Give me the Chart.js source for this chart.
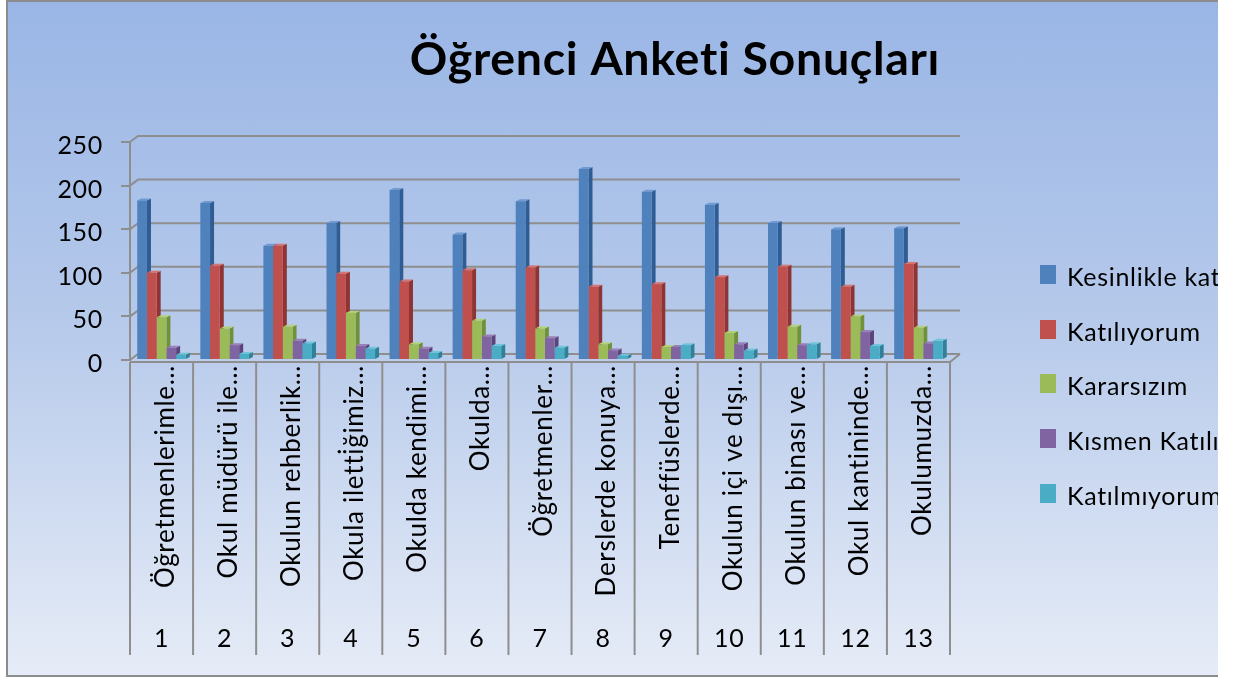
<!DOCTYPE html>
<html lang="tr">
<head>
<meta charset="utf-8">
<title>Öğrenci Anketi Sonuçları</title>
<script src="https://cdn.jsdelivr.net/npm/chart.js@4"></script>
<style>
  html, body { margin: 0; padding: 0; background: #fff; overflow: hidden; }
  #frame { position: absolute; left: 0; top: 0; width: 1218px; height: 677px; overflow: hidden; }
  #panel {
    position: absolute; left: 6px; top: 0; width: 1220px; height: 677px;
    box-sizing: border-box; border: 2px solid #8c8c8c;
    background: linear-gradient(to bottom, #9ab6e6 0%, #b4c8ea 45%, #e6ecf7 100%);
  }
  /* the original is a slightly soft screenshot */
  #chart { position: absolute; left: 0; top: 0; filter: blur(0.4px); }
  #legend { position: absolute; left: 1040px; top: 265px; font-family: Lato, sans-serif; font-size: 25px; color: #000; white-space: nowrap; filter: blur(0.4px); }
  #legend div { height: 54.7px; position: relative; }
  #legend i { position: absolute; left: 0; top: 0; width: 16px; height: 19px; }
  #legend span { position: absolute; left: 27px; top: -4px; line-height: 30px; letter-spacing: 0.7px; }
</style>
</head>
<body>
<div id="frame">
  <div id="panel"></div>
  <canvas id="chart" width="1234" height="677"></canvas>
  <div id="legend"></div>
</div>
<script>
const questions = ['Öğretmenlerimle…', 'Okul müdürü ile…', 'Okulun rehberlik…', 'Okula iletti\u0307ğimiz…', 'Okulda kendimi…', 'Okulda…', 'Öğretmenler…', 'Derslerde konuya…', 'Teneffüslerde…', 'Okulun içi ve dışı…', 'Okulun binası ve…', 'Okul kantininde…', 'Okulumuzda…'];
const questionNumbers = ['1', '2', '3', '4', '5', '6', '7', '8', '9', '10', '11', '12', '13'];
const seriesNames = ['Kesinlikle katılıyorum', 'Katılıyorum', 'Kararsızım', 'Kısmen Katılıyorum', 'Katılmıyorum'];
const seriesColors = ['#4f81bd', '#c0504d', '#9bbb59', '#8064a2', '#4bacc6'];
const sideColors = ['#2f5c92', '#8f3432', '#71903a', '#5c4379', '#2f8199'];
const topColors = ['#6f9ad0', '#d4736f', '#b4d077', '#9a80bb', '#6fc4da'];

const kesinlikle = [183, 180, 131, 157, 195, 144, 182, 219, 193, 178, 157, 150, 151];
const katiliyorum = [100, 108, 131, 99, 90, 103, 106, 84, 87, 95, 107, 84, 110];
const kararsizim = [49, 36, 38, 54, 18, 45, 36, 18, 15, 31, 38, 50, 37];
const kismen = [14, 17, 22, 16, 13, 27, 25, 11, 15, 18, 17, 32, 19];
const katilmiyorum = [6, 7, 19, 13, 8, 16, 14, 5, 17, 11, 18, 16, 22];
const seriesValues = [kesinlikle, katiliyorum, kararsizim, kismen, katilmiyorum];

const axisGray = '#8e8e8e';
const fontName = 'Lato, sans-serif';

// back wall, floor and bar sides, the flat bars come on top of this
const depthPlugin = {
  id: 'depth',
  afterLayout(chart) {
    // the title sits right of the plot centre in the original
    chart.titleBlock.left += 200;
    chart.titleBlock.right += 200;
  },
  beforeDraw(chart) {
    // spacing also switches off the "ti" ligature of Lato
    chart.ctx.letterSpacing = '0.7px';
  },
  beforeDatasetsDraw(chart) {
    const ctx = chart.ctx;
    const { left, right, bottom } = chart.chartArea;
    const yScale = chart.scales.y;
    const wallX = 8, wallY = 6;
    ctx.save();
    ctx.strokeStyle = axisGray;
    ctx.lineWidth = 2;
    yScale.ticks.forEach(t => {
      const y = yScale.getPixelForValue(t.value);
      ctx.beginPath();
      ctx.moveTo(left, y);
      ctx.lineTo(left + wallX, y - wallY);
      ctx.lineTo(right + wallX + 2, y - wallY);
      ctx.stroke();
    });
    // floor
    ctx.beginPath();
    ctx.moveTo(right + wallX + 2, bottom - wallY);
    ctx.lineTo(right, bottom + 2);
    ctx.lineTo(left, bottom + 2);
    ctx.stroke();

    const d = 4;
    chart.data.datasets.forEach((ds, i) => {
      chart.getDatasetMeta(i).data.forEach(bar => {
        const x0 = bar.x - bar.width / 2, x1 = bar.x + bar.width / 2;
        ctx.fillStyle = sideColors[i];
        ctx.beginPath();
        ctx.moveTo(x1, bar.y);
        ctx.lineTo(x1 + d, bar.y - 2);
        ctx.lineTo(x1 + d, bar.base - 2);
        ctx.lineTo(x1, bar.base);
        ctx.fill();
        ctx.fillStyle = topColors[i];
        ctx.beginPath();
        ctx.moveTo(x0, bar.y);
        ctx.lineTo(x0 + d, bar.y - 2);
        ctx.lineTo(x1 + d, bar.y - 2);
        ctx.lineTo(x1, bar.y);
        ctx.fill();
      });
    });
    ctx.restore();
  },
  afterDraw(chart) {
    // separators between the questions, down through both label rows
    const ctx = chart.ctx;
    const xScale = chart.scales.x;
    const band = xScale.getPixelForTick(1) - xScale.getPixelForTick(0);
    ctx.save();
    ctx.strokeStyle = axisGray;
    ctx.lineWidth = 2;
    for (let i = 0; i <= questions.length; i++) {
      const x = xScale.getPixelForTick(0) - band / 2 + i * band;
      ctx.beginPath();
      ctx.moveTo(x, chart.chartArea.bottom + 2);
      ctx.lineTo(x, 655);
      ctx.stroke();
    }
    ctx.restore();
  }
};

new Chart(document.getElementById('chart'), {
  type: 'bar',
  data: {
    labels: questions,
    datasets: seriesNames.map((name, i) => ({
      label: name,
      data: seriesValues[i],
      backgroundColor: seriesColors[i],
      xAxisID: 'x',
      barPercentage: 1,
      categoryPercentage: 0.77
    }))
  },
  options: {
    responsive: false,
    animation: false,
    layout: { padding: { left: 0, right: 284, top: 0, bottom: 0 } },
    plugins: {
      legend: { display: false },
      tooltip: { enabled: false },
      title: {
        display: true,
        text: 'Öğrenci Anketi Sonuçları',
        color: '#000',
        font: { family: fontName, size: 46.5, weight: 'bold', lineHeight: 1.2 },
        padding: { top: 32, bottom: 54.2 }
      }
    },
    scales: {
      x: {
        type: 'category',
        position: 'bottom',
        weight: 0,
        grid: { display: false },
        border: { display: false },
        ticks: {
          autoSkip: false, minRotation: 90, maxRotation: 90, padding: -3, labelOffset: 4,
          color: '#000', font: { family: fontName, size: 26 }
        },
        afterFit(scale) { scale.height = 258; }
      },
      x2: {
        type: 'category',
        labels: questionNumbers,
        position: 'bottom',
        weight: 1,
        grid: { display: false },
        border: { display: false },
        ticks: { autoSkip: false, maxRotation: 0, padding: -2, color: '#000', font: { family: fontName, size: 25 } },
        afterFit(scale) { scale.height = 59; }
      },
      y: {
        min: 0,
        max: 250,
        ticks: { stepSize: 50, padding: 18, labelOffset: 4, color: '#000', font: { family: fontName, size: 25 } },
        grid: { drawOnChartArea: false, color: axisGray, lineWidth: 2, tickLength: 9 },
        border: { color: axisGray, width: 2 },
        afterFit(scale) { scale.width = 130; }
      }
    }
  },
  plugins: [depthPlugin]
});

// legend as html so it can run off the right edge like the original
const legendBox = document.getElementById('legend');
seriesNames.forEach((name, i) => {
  const row = document.createElement('div');
  const swatch = document.createElement('i');
  swatch.style.background = seriesColors[i];
  const text = document.createElement('span');
  text.textContent = name;
  row.append(swatch, text);
  legendBox.append(row);
});
</script>
</body>
</html>
